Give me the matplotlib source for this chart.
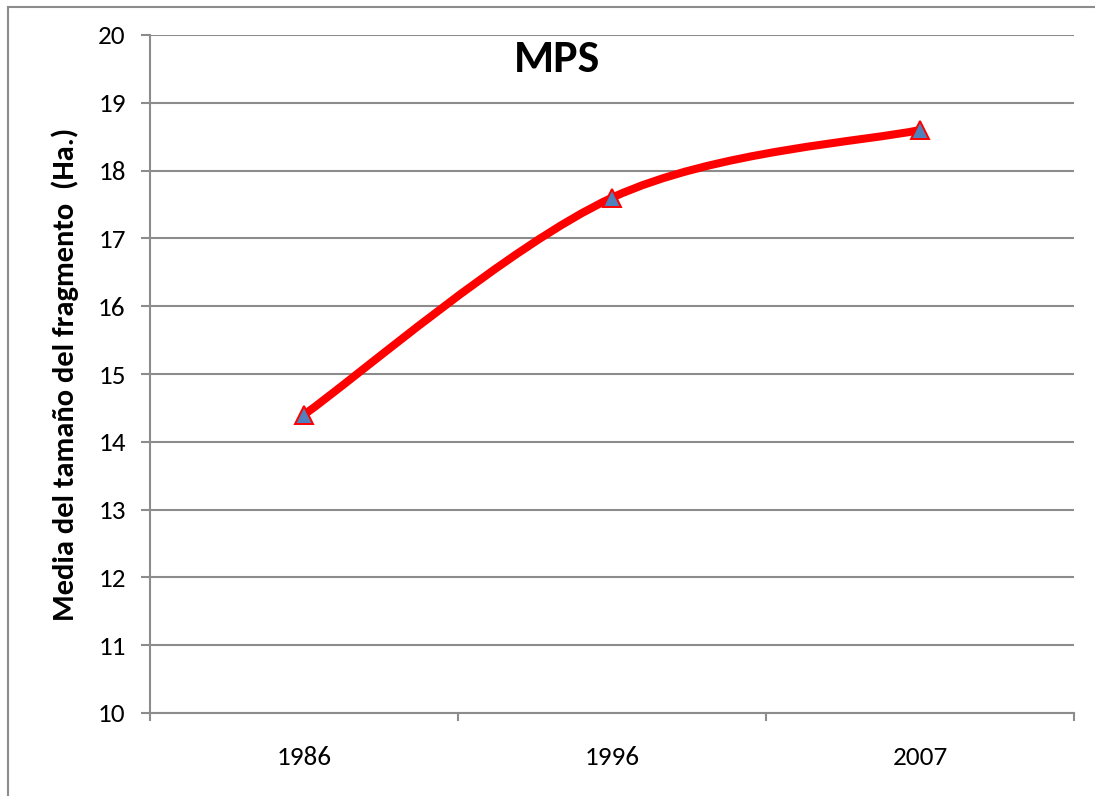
import matplotlib
matplotlib.use("Agg")
import matplotlib.pyplot as plt
from matplotlib.path import Path
from matplotlib.patches import PathPatch
from matplotlib.lines import Line2D

plt.rcParams["font.family"] = ["Carlito", "DejaVu Sans"]

years = ["1986", "1996", "2007"]
mps = [14.4, 17.6, 18.6]
y_ticks = [10, 11, 12, 13, 14, 15, 16, 17, 18, 19, 20]

GRID = "#8c8c8c"

fig = plt.figure(figsize=(10.95, 7.96), dpi=100)
ax = fig.add_axes([150 / 1095, 83 / 796, 924 / 1095, 678 / 796])

x = list(range(len(years)))
pts = list(zip(x, mps))

# smoothed line like Excel: Catmull-Rom style cubic Bezier segments
verts = [pts[0]]
codes = [Path.MOVETO]
n = len(pts)
for i in range(n - 1):
    p0 = pts[i - 1] if i > 0 else pts[i]
    p1 = pts[i]
    p2 = pts[i + 1]
    p3 = pts[i + 2] if i + 2 < n else pts[i + 1]
    c1 = (p1[0] + (p2[0] - p0[0]) / 6, p1[1] + (p2[1] - p0[1]) / 6)
    c2 = (p2[0] - (p3[0] - p1[0]) / 6, p2[1] - (p3[1] - p1[1]) / 6)
    verts += [c1, c2, p2]
    codes += [Path.CURVE4] * 3
ax.add_patch(PathPatch(Path(verts, codes), facecolor="none", edgecolor="#ff0000",
                       lw=5.8, capstyle="round", joinstyle="round", zorder=3))
ax.plot(x, mps, linestyle="none", marker="^", markersize=12.5,
        markerfacecolor="#4f81bd", markeredgecolor="#ff0000", markeredgewidth=1.4, zorder=4)

ax.set_xlim(-0.5, len(years) - 0.5)
ax.set_ylim(10, 20)
ax.set_yticks(y_ticks)
ax.set_xticks([i - 0.5 for i in range(len(years) + 1)])
ax.set_xticklabels([])
ax.set_xticks(x, minor=True)
ax.set_xticklabels(years, minor=True)
ax.tick_params(axis="x", which="minor", length=0, pad=24, labelsize=19.5)
ax.tick_params(axis="x", which="major", length=5.8, width=1.5, color=GRID, direction="out")
ax.tick_params(axis="y", length=6.5, width=1.5, color=GRID, direction="out", pad=11, labelsize=19.5)

ax.grid(axis="y", color=GRID, lw=1.5)
ax.set_axisbelow(True)
for s in ["top", "right"]:
    ax.spines[s].set_visible(False)
for s in ["left", "bottom"]:
    ax.spines[s].set_color(GRID)
    ax.spines[s].set_linewidth(1.5)

ax.set_ylabel("Media del tamaño del fragmento  (Ha.)", fontsize=22, fontweight="bold",
              labelpad=14)
ax.text(0.44, 0.965, "MPS", transform=ax.transAxes, ha="center", va="center",
        fontsize=33, fontweight="bold")

# chart area border (cropped on right and bottom)
fig.add_artist(Line2D([8 / 1095, 8 / 1095], [0, 1 - 7 / 796], color=GRID, lw=1.5))
fig.add_artist(Line2D([8 / 1095, 1], [1 - 7 / 796, 1 - 7 / 796], color=GRID, lw=1.5))

fig.savefig("out.png", dpi=100)
